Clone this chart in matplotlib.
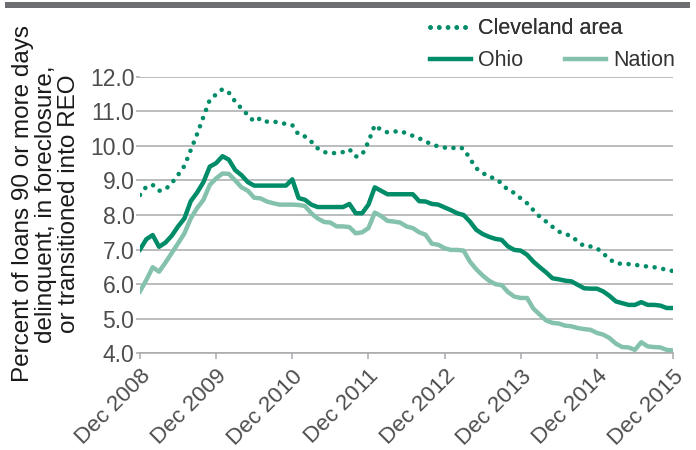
import matplotlib
matplotlib.use("Agg")
import matplotlib.pyplot as plt
from matplotlib.patches import Rectangle

plt.rcParams['font.family'] = ['Liberation Sans', 'DejaVu Sans']

# monthly, Dec 2008 .. Dec 2015
cleveland = [8.58, 8.82, 8.87, 8.7, 8.74, 8.92, 9.16, 9.42, 9.88, 10.34, 10.84, 11.33, 11.49,
             11.64, 11.54, 11.28, 11.08, 10.89, 10.7, 10.8, 10.7, 10.7, 10.68, 10.63, 10.6,
             10.32, 10.27, 10.12, 9.93, 9.82, 9.79, 9.79, 9.82, 9.9, 9.69, 9.74, 10.12,
             10.6, 10.46, 10.39, 10.41, 10.43, 10.36, 10.29, 10.22, 10.12, 10.05, 9.98, 9.95,
             9.92, 9.97, 9.92, 9.63, 9.35, 9.22, 9.1, 9.06, 8.91, 8.72, 8.64, 8.48,
             8.34, 8.14, 7.95, 7.81, 7.66, 7.52, 7.45, 7.39, 7.23, 7.1, 7.09, 7.04,
             6.89, 6.72, 6.6, 6.59, 6.58, 6.56, 6.53, 6.51, 6.49, 6.46, 6.41, 6.38]
ohio = [7.0, 7.3, 7.42, 7.08, 7.2, 7.4, 7.67, 7.9, 8.4, 8.65, 8.95, 9.4, 9.5,
        9.7, 9.6, 9.3, 9.15, 8.95, 8.85, 8.85, 8.85, 8.85, 8.85, 8.85, 9.03,
        8.49, 8.44, 8.3, 8.23, 8.23, 8.23, 8.23, 8.23, 8.32, 8.05, 8.05, 8.3,
        8.8, 8.7, 8.6, 8.6, 8.6, 8.6, 8.6, 8.4, 8.39, 8.32, 8.3, 8.22,
        8.14, 8.05, 8.0, 7.81, 7.57, 7.45, 7.37, 7.31, 7.28, 7.09, 6.99, 6.97,
        6.85, 6.65, 6.49, 6.34, 6.17, 6.14, 6.1, 6.08, 5.98, 5.88, 5.87, 5.87,
        5.79, 5.66, 5.5, 5.45, 5.4, 5.4, 5.48, 5.4, 5.4, 5.38, 5.31, 5.31]
nation = [5.79, 6.12, 6.49, 6.36, 6.62, 6.9, 7.18, 7.47, 7.9, 8.2, 8.44, 8.87, 9.06,
          9.2, 9.19, 9.0, 8.8, 8.7, 8.5, 8.48, 8.39, 8.34, 8.3, 8.3, 8.3,
          8.29, 8.26, 8.05, 7.9, 7.8, 7.78, 7.67, 7.67, 7.65, 7.47, 7.5, 7.62,
          8.07, 7.97, 7.83, 7.81, 7.78, 7.67, 7.62, 7.5, 7.43, 7.17, 7.14, 7.04,
          6.99, 6.99, 6.97, 6.65, 6.43, 6.25, 6.1, 6.0, 5.97, 5.77, 5.64, 5.6,
          5.6, 5.29, 5.12, 4.95, 4.88, 4.86, 4.8, 4.78, 4.73, 4.7, 4.68, 4.59,
          4.54, 4.44, 4.28, 4.18, 4.17, 4.1, 4.32, 4.2, 4.18, 4.17, 4.1, 4.08]
months = list(range(len(ohio)))
tick_labels = ['Dec 2008', 'Dec 2009', 'Dec 2010', 'Dec 2011',
               'Dec 2012', 'Dec 2013', 'Dec 2014', 'Dec 2015']
y_ticks = [4, 5, 6, 7, 8, 9, 10, 11, 12]

dark = '#008c68'
light = '#85c2ae'
grid = '#a8a9ac'

fig = plt.figure(figsize=(6.96, 4.5), dpi=100)
ax = fig.add_axes([140 / 696, 1 - 353.3 / 450, 533 / 696, 276.6 / 450])

ax.plot(months, nation, color=light, lw=3.2, solid_joinstyle='round', label='Nation')
ax.plot(months, ohio, color=dark, lw=3.2, solid_joinstyle='round', label='Ohio')
ax.plot(months, cleveland, color=dark, lw=3.3, linestyle=(0, (0.01, 1.9)),
        dash_capstyle='round', label='Cleveland area')

ax.set_xlim(0, 84)
ax.set_ylim(4, 12)
ax.set_yticks(y_ticks)
ax.set_yticklabels([f'{v:.1f}' for v in y_ticks])
ax.set_xticks(range(0, 85, 12))
ax.set_xticklabels(tick_labels, rotation=45, ha='right', va='top',
                   rotation_mode='anchor')
ax.grid(axis='y', color=grid, lw=1.1)
ax.set_axisbelow(True)
for s in ['top', 'right', 'left']:
    ax.spines[s].set_visible(False)
ax.spines['bottom'].set_color(grid)
ax.spines['bottom'].set_linewidth(1.1)
ax.tick_params(axis='y', length=3, pad=1, color=grid, width=1.1,
               labelsize=16.5, labelcolor='#4d4d4d')
ax.tick_params(axis='x', length=4, pad=5, color=grid, width=1.1,
               labelsize=16.2, labelcolor='#4d4d4d')

ax.set_ylabel('Percent of loans 90 or more days\ndelinquent, in foreclosure,\n'
              'or transitioned into REO', fontsize=17.5, color='#1a1a1a',
              linespacing=1.05)
ax.yaxis.set_label_coords(-0.113, 0.54)

# legend: two rows, placed by hand
h = {l.get_label(): l for l in ax.get_lines()}
leg1 = fig.legend([h['Cleveland area']], ['Cleveland area'], loc='center left',
                  bbox_to_anchor=(430 / 696, 1 - 29 / 450), frameon=False,
                  fontsize=15.5, handlelength=1.9, handletextpad=0.33,
                  borderpad=0, borderaxespad=0, labelcolor='#333333')
fig.legend([h['Ohio'], h['Nation']], ['Ohio', 'Nation'], loc='center left',
           bbox_to_anchor=(430 / 696, 1 - 61 / 450), frameon=False, ncol=2,
           fontsize=15.5, handlelength=1.9, handletextpad=0.33, columnspacing=1.95,
           borderpad=0, borderaxespad=0, labelcolor='#333333')
fig.add_artist(leg1)

fig.add_artist(Rectangle((5 / 696, 1 - 7.5 / 450), 685 / 696, 6 / 450,
                         transform=fig.transFigure, color='#6d6e71', lw=0))

fig.savefig('out.png', dpi=100)
